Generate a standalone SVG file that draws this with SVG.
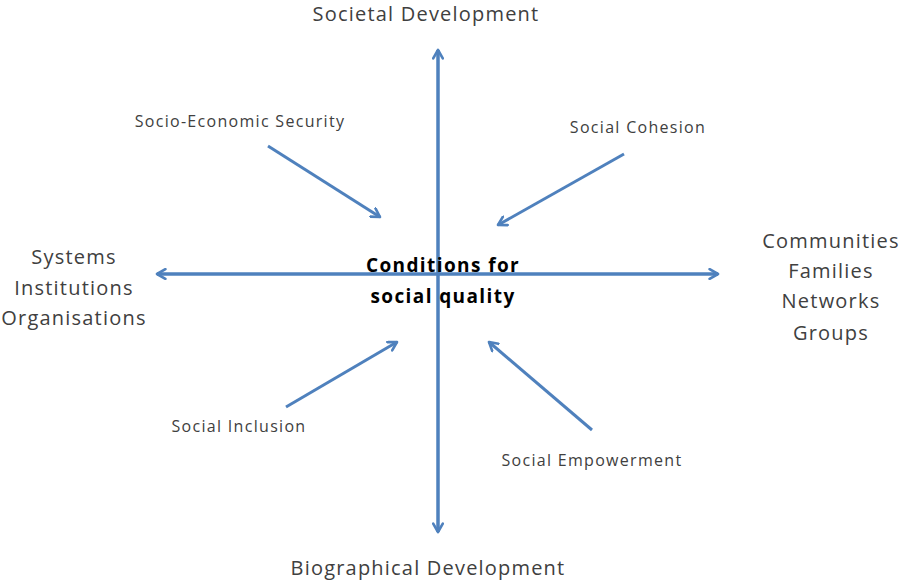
<svg xmlns="http://www.w3.org/2000/svg" width="903" height="581" viewBox="0 0 903 581">
<defs>
<marker id="ah" viewBox="0 0 10 10" refX="8" refY="5" markerWidth="4" markerHeight="4" orient="auto" markerUnits="strokeWidth">
<path d="M1,1 L8,5 L1,9" fill="none" stroke="#4F81BD" stroke-width="2.2" stroke-linecap="round" stroke-linejoin="round"/>
</marker>
<style>
.ln{stroke:#4F81BD;stroke-width:3;fill:none;marker-end:url(#ah)}
.big{font-family:"Open Sans","Liberation Sans",Arial,sans-serif;font-size:20px;letter-spacing:1.2px;fill:#404040;text-anchor:middle}
.sm{font-family:"Open Sans","Liberation Sans",Arial,sans-serif;font-size:16px;letter-spacing:1.3px;fill:#404040;text-anchor:middle}
.ctr{font-family:"Open Sans","Liberation Sans",Arial,sans-serif;font-size:19px;letter-spacing:1.4px;font-weight:bold;fill:#000;text-anchor:middle}
</style>
</defs>
<rect width="903" height="581" fill="#fff"/>
<g id="connectors">
<line class="ln" x1="438" y1="532" x2="438" y2="50"/>
<line class="ln" x1="438" y1="50" x2="438" y2="532"/>
<line class="ln" x1="718" y1="274" x2="157" y2="274"/>
<line class="ln" x1="157" y1="274" x2="718" y2="274"/>
<line class="ln" x1="268" y1="146" x2="380" y2="217"/>
<line class="ln" x1="624" y1="154" x2="498" y2="225"/>
<line class="ln" x1="286" y1="407" x2="397" y2="342"/>
<line class="ln" x1="592" y1="430" x2="489" y2="342"/>
</g>
<g id="societal"><text class="big" x="426" y="21">Societal Development</text></g>
<g id="biographical"><text class="big" x="428" y="575">Biographical Development</text></g>
<g id="systems"><text class="big" x="74" y="264">Systems</text><text class="big" x="74" y="295">Institutions</text><text class="big" x="74" y="325">Organisations</text></g>
<g id="communities"><text class="big" x="831" y="248">Communities</text><text class="big" x="831" y="278">Families</text><text class="big" x="831" y="308">Networks</text><text class="big" x="831" y="340">Groups</text></g>
<g id="center"><text class="ctr" x="443" y="272">Conditions for</text><text class="ctr" x="443" y="303">social quality</text></g>
<g id="socioeconomic"><text class="sm" x="240" y="127">Socio-Economic Security</text></g>
<g id="cohesion"><text class="sm" x="638" y="133">Social Cohesion</text></g>
<g id="inclusion"><text class="sm" x="239" y="432">Social Inclusion</text></g>
<g id="empowerment"><text class="sm" x="592" y="466">Social Empowerment</text></g>
</svg>
